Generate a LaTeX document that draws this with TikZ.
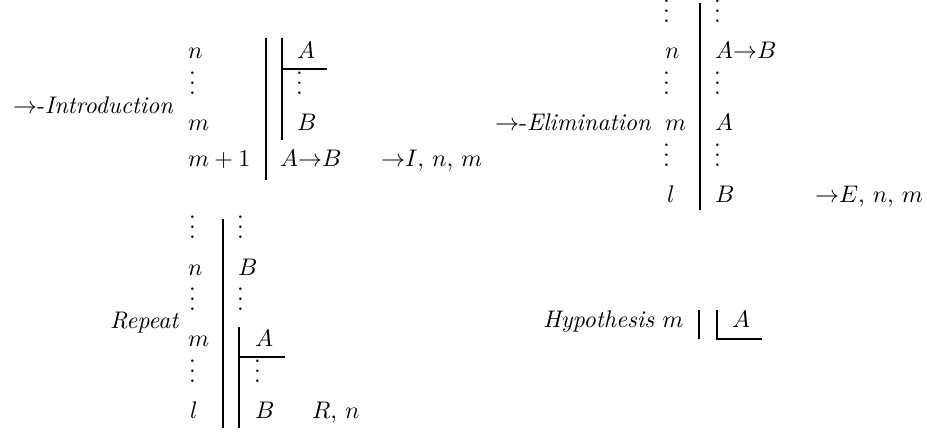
\documentclass[tikz,border=0pt]{standalone}
\newcommand{\fvd}{\vbox{\baselineskip4pt\lineskiplimit0pt\hbox{.}\hbox{.}\hbox{.}}}
\begin{document}
\begin{tikzpicture}[x=0.41667pt, y=-0.41667pt,
  txt/.style={anchor=base west, inner sep=0pt, outer sep=0pt},
  rule/.style={line width=0.7pt, black}]
\useasboundingbox (0,0) rectangle (927,432);

% ---------- ->-Introduction ----------
\node[txt] (introlab) at (13,113) {$\to$-\textit{Introduction}};
\node[txt] (in1) at (188,58) {$n$};
\node[txt] (in2) at (189,94) {\fvd};
\node[txt] (in3) at (188,130) {$m$};
\node[txt] (in4) at (188,166) {$m+1$};
\draw[rule] (266,38) coordinate (io1) -- (266,180) coordinate (io2);
\draw[rule] (282,38) coordinate (ii1) -- (282,140) coordinate (ii2);
\draw[rule] (282,69) coordinate (ih1) -- (327,69) coordinate (ih2);
\node[txt] (ia) at (297,58) {$A$};
\node[txt] (id) at (296,94) {\fvd};
\node[txt] (ib) at (297,130) {$B$};
\node[txt] (iab) at (280,166) {$A{\to}B$};
\node[txt] (ijust) at (381,166) {${\to}I$, $n$, $m$};

% ---------- ->-Elimination ----------
\node[txt] (elimlab) at (495,130) {$\to$-\textit{Elimination}};
\node[txt] (en0) at (663,22) {\fvd};
\node[txt] (en1) at (665,58) {$n$};
\node[txt] (en2) at (663,94) {\fvd};
\node[txt] (en3) at (665,130) {$m$};
\node[txt] (en4) at (663,166) {\fvd};
\node[txt] (en5) at (667,202) {$l$};
\draw[rule] (700,3) coordinate (eo1) -- (700,210) coordinate (eo2);
\node[txt] (ef0) at (714,22) {\fvd};
\node[txt] (ef1) at (715,58) {$A{\to}B$};
\node[txt] (ef2) at (714,94) {\fvd};
\node[txt] (ef3) at (715,130) {$A$};
\node[txt] (ef4) at (714,166) {\fvd};
\node[txt] (ef5) at (715,202) {$B$};
\node[txt] (ejust) at (815,202) {${\to}E$, $n$, $m$};

% ---------- Repeat ----------
\node[txt] (replab) at (110,328) {\textit{Repeat}};
\node[txt] (rn0) at (189,238) {\fvd};
\node[txt] (rn1) at (188,275) {$n$};
\node[txt] (rn2) at (189,310) {\fvd};
\node[txt] (rn3) at (188,346) {$m$};
\node[txt] (rn4) at (189,382) {\fvd};
\node[txt] (rn5) at (190,418) {$l$};
\draw[rule] (223,219) coordinate (ro1) -- (223,428) coordinate (ro2);
\node[txt] (rf0) at (237,238) {\fvd};
\node[txt] (rf1) at (238,275) {$B$};
\node[txt] (rf2) at (237,310) {\fvd};
\draw[rule] (239,327) coordinate (ri1) -- (239,428) coordinate (ri2);
\draw[rule] (239,357) coordinate (rh1) -- (285,357) coordinate (rh2);
\node[txt] (ra) at (255,346) {$A$};
\node[txt] (rd) at (254,382) {\fvd};
\node[txt] (rb) at (255,418) {$B$};
\node[txt] (rjust) at (312,418) {$R$, $n$};

% ---------- Hypothesis ----------
\node[txt] (hyplab) at (543,327) {\textit{Hypothesis} $m$};
\draw[rule] (699,310) coordinate (ho1) -- (699,339) coordinate (ho2);
\draw[rule] (717,310) coordinate (hi1) -- (717,339) coordinate (hi2) -- (762,339) coordinate (hh2);
\node[txt] (ha) at (732,327) {$A$};
\end{tikzpicture}
\end{document}
